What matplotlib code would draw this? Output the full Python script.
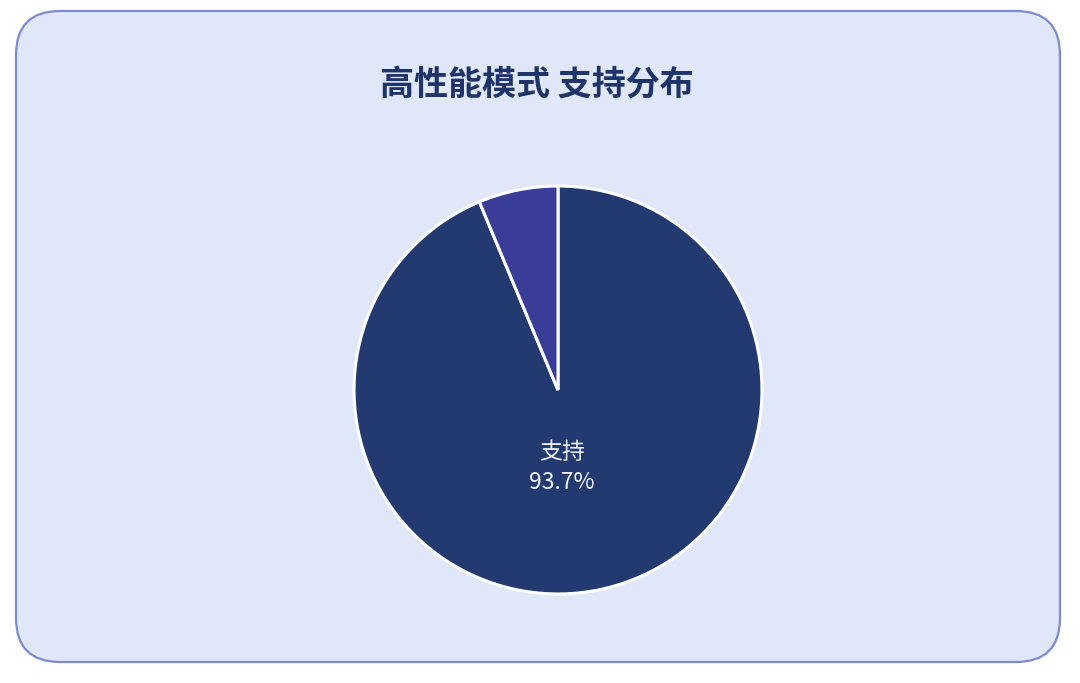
import matplotlib
matplotlib.use("Agg")
import matplotlib.pyplot as plt
from matplotlib.patches import FancyBboxPatch

plt.rcParams['font.family'] = ['Noto Sans CJK SC', 'DejaVu Sans']

title = "高性能模式 支持分布"
categories = ["支持", "不支持"]
values = [93.7, 6.3]
colors = ["#223a70", "#393d98"]

W, H = 1080, 683
fig = plt.figure(figsize=(W / 100, H / 100), dpi=100)
fig.patch.set_facecolor("white")

# background card
bg = fig.add_axes([0, 0, 1, 1])
bg.set_xlim(0, W)
bg.set_ylim(H, 0)
bg.axis("off")
card = FancyBboxPatch((16, 11), 1044, 651,
                      boxstyle="round,pad=0,rounding_size=44",
                      facecolor="#dfe7f8", edgecolor="#7d8cd2", linewidth=1.6)
bg.add_patch(card)
bg.text(537, 84, title, ha="center", va="center", fontsize=24.5,
        fontweight="bold", color="#1f3468")

# pie
cx, cy, r = 558, 390, 206
ax = fig.add_axes([(cx - r) / W, (H - cy - r) / H, 2 * r / W, 2 * r / H])
wedges, _ = ax.pie(values, colors=colors, startangle=90, counterclock=False,
                   radius=1.0,
                   wedgeprops=dict(edgecolor="white", linewidth=2.2))
ax.set_xlim(-1.01, 1.01)
ax.set_ylim(-1.01, 1.01)
ax.set_aspect("equal")
ax.axis("off")

ax.text(0.02, -0.38, f"{categories[0]}\n{values[0]}%", ha="center", va="center",
        fontsize=16.5, color="#eef1f8", linespacing=1.4)

fig.savefig("out.png", dpi=100, facecolor="white")
